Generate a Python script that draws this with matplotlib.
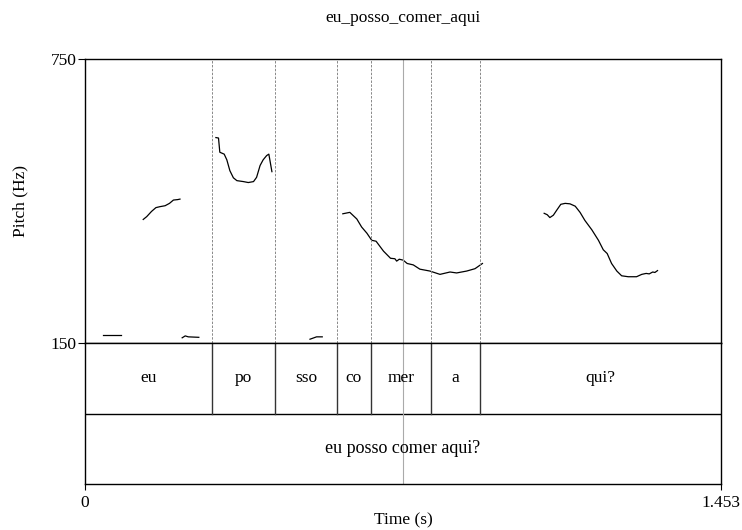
import matplotlib
matplotlib.use("Agg")
import matplotlib.pyplot as plt

plt.rcParams['font.family'] = ['Liberation Serif', 'DejaVu Serif']

t_max = 1.453
f_min, f_max = 150, 750

# pitch track pieces (time in s, pitch in Hz)
pitch_t = [
    [0.041, 0.082],
    [0.133, 0.141, 0.152, 0.162, 0.171, 0.183, 0.193, 0.202, 0.212, 0.217],
    [0.222, 0.229, 0.236, 0.260],
    [0.299, 0.305, 0.308, 0.318, 0.324, 0.331, 0.339, 0.347, 0.362, 0.373,
     0.385, 0.392, 0.400, 0.407, 0.415, 0.420, 0.427],
    [0.514, 0.529, 0.542],
    [0.589, 0.605, 0.621, 0.632, 0.644, 0.655, 0.665, 0.682, 0.698, 0.708,
     0.712, 0.718, 0.727, 0.736, 0.750, 0.765, 0.788, 0.811, 0.834, 0.849,
     0.872, 0.891, 0.908],
    [1.049, 1.056, 1.062, 1.070, 1.078, 1.087, 1.097, 1.108, 1.120, 1.131,
     1.142, 1.158, 1.173, 1.184, 1.193, 1.203, 1.215, 1.226, 1.241, 1.260,
     1.272, 1.282, 1.289, 1.297, 1.302, 1.308],
]
pitch_f = [
    [167, 167],
    [411, 417, 428, 436, 438, 440, 445, 452, 453, 454],
    [161, 165, 163, 162],
    [584, 583, 553, 549, 537, 514, 499, 493, 491, 489,
     491, 500, 525, 537, 546, 549, 512],
    [158, 163, 163],
    [423, 426, 412, 395, 382, 367, 365, 344, 329, 328,
     323, 327, 325, 318, 315, 306, 302, 295, 300, 298,
     302, 307, 318],
    [424, 421, 415, 420, 431, 443, 445, 444, 439, 426,
     409, 389, 367, 347, 339, 318, 302, 292, 290, 290,
     295, 297, 296, 300, 299, 303],
]

# syllable tier
syll_bounds = [0.0, 0.290, 0.434, 0.576, 0.653, 0.790, 0.902, 1.453]
syll_labels = ['eu', 'po', 'sso', 'co', 'mer', 'a', 'qui?']
sentence = 'eu posso comer aqui?'
cursor_t = 0.7265

W, H = 742, 530
fs = 12.5
fig = plt.figure(figsize=(W / 100, H / 100), dpi=100)

# pitch panel
ax = fig.add_axes([85 / W, 1 - 343 / H, 636 / W, 284 / H])
for t, f in zip(pitch_t, pitch_f):
    ax.plot(t, f, color='black', linewidth=0.9)
for b in syll_bounds[1:-1]:
    ax.axvline(b, color='#888888', linewidth=0.7, linestyle=(0, (2.5, 1.5)))
ax.axvline(cursor_t, color='#aaaaaa', linewidth=0.8)
ax.set_xlim(0, t_max)
ax.set_ylim(f_min, f_max)
ax.set_xticks([])
ax.set_yticks([f_min, f_max])
ax.set_yticklabels(['150', '750'], fontsize=fs)
ax.tick_params(axis='y', direction='out', length=5, width=0.8, pad=1)
ax.set_ylabel('Pitch (Hz)', fontsize=fs, labelpad=16)
for s in ax.spines.values():
    s.set_linewidth(1.0)
ax.set_title('eu_posso_comer_aqui', fontsize=fs, pad=27)

# tier panel
tx = fig.add_axes([85 / W, 1 - 484 / H, 636 / W, 141 / H])
tx.set_xlim(0, t_max)
tx.set_ylim(0, 2)
tx.axhline(1, color='black', linewidth=1.0)
for b in syll_bounds[1:-1]:
    tx.plot([b, b], [1, 2], color='#333333', linewidth=1.0)
for i, lab in enumerate(syll_labels):
    tx.text((syll_bounds[i] + syll_bounds[i + 1]) / 2, 1.5, lab,
            ha='center', va='center', fontsize=fs)
tx.text(t_max / 2, 0.5, sentence, ha='center', va='center', fontsize=13)
tx.axvline(cursor_t, color='#aaaaaa', linewidth=0.8)
tx.set_yticks([])
tx.set_xticks([0, t_max])
tx.set_xticklabels(['0', '1.453'], fontsize=fs)
tx.tick_params(axis='x', direction='out', length=4, width=0.8, pad=4)
tx.set_xlabel('Time (s)', fontsize=fs, labelpad=1)
for s in tx.spines.values():
    s.set_linewidth(1.0)

fig.savefig('out.png', dpi=100)
